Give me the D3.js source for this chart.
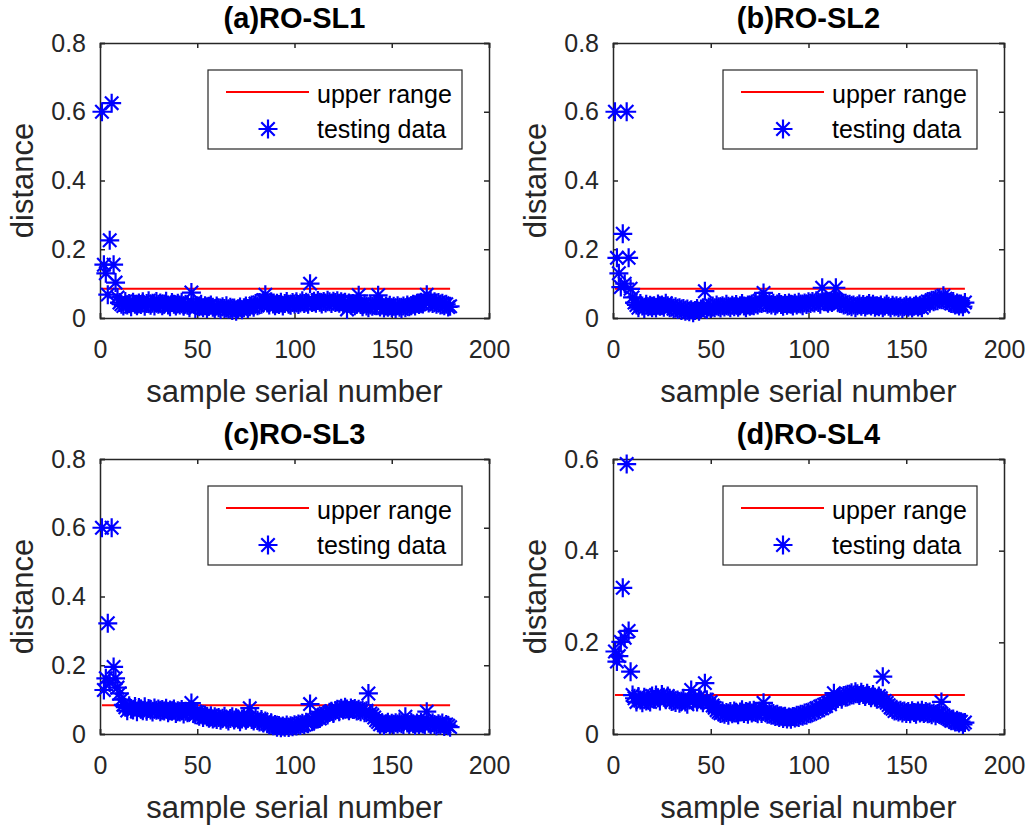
<!DOCTYPE html>
<html>
<head>
<meta charset="utf-8">
<script src="https://cdn.jsdelivr.net/npm/d3@7"></script>
<style>
  body { margin: 0; background: #fff; }
  text { font-family: "Liberation Sans", Arial, sans-serif; }
</style>
</head>
<body>
<div id="chart"></div>
<script>
//////////////////////////////////////////////////////////////////////////////
// Data

var titles = ["(a)RO-SL1", "(b)RO-SL2", "(c)RO-SL3", "(d)RO-SL4"];
var xTicks = [0, 50, 100, 150, 200];
var yTicksTall = [0, 0.2, 0.4, 0.6, 0.8];
var yTicksShort = [0, 0.2, 0.4, 0.6];
var upperRange = [0.085, 0.085, 0.084, 0.085];
var legendLabels = ["upper range", "testing data"];

var distA = [
  0.600, 0.155, 0.130, 0.068, 0.226, 0.625, 0.155, 0.103, 0.060, 0.045,
  0.040, 0.035, 0.048, 0.038, 0.042, 0.033, 0.046, 0.040, 0.036, 0.044,
  0.039, 0.047, 0.034, 0.042, 0.050, 0.037, 0.043, 0.035, 0.048, 0.040,
  0.044, 0.036, 0.041, 0.049, 0.038, 0.033, 0.045, 0.040, 0.035, 0.043,
  0.038, 0.046, 0.034, 0.040, 0.037, 0.030, 0.074, 0.042, 0.028, 0.036,
  0.033, 0.040, 0.030, 0.036, 0.028, 0.034, 0.038, 0.031, 0.027, 0.035,
  0.030, 0.025, 0.033, 0.028, 0.036, 0.026, 0.031, 0.022, 0.029, 0.020,
  0.027, 0.032, 0.024, 0.030, 0.035, 0.028, 0.033, 0.038, 0.031, 0.042,
  0.036, 0.045, 0.040, 0.052, 0.068, 0.044, 0.038, 0.047, 0.041, 0.036,
  0.043, 0.039, 0.046, 0.035, 0.042, 0.048, 0.040, 0.037, 0.045, 0.041,
  0.047, 0.039, 0.044, 0.050, 0.042, 0.046, 0.040, 0.100, 0.045, 0.049,
  0.043, 0.051, 0.046, 0.041, 0.048, 0.044, 0.052, 0.047, 0.042, 0.049,
  0.045, 0.050, 0.043, 0.047, 0.040, 0.046, 0.025, 0.044, 0.038, 0.042,
  0.036, 0.040, 0.066, 0.039, 0.033, 0.041, 0.035, 0.030, 0.038, 0.034,
  0.040, 0.036, 0.066, 0.032, 0.038, 0.029, 0.035, 0.031, 0.037, 0.030,
  0.034, 0.028, 0.036, 0.031, 0.027, 0.035, 0.030, 0.038, 0.033, 0.036,
  0.040, 0.035, 0.043, 0.039, 0.046, 0.041, 0.048, 0.068, 0.044, 0.050,
  0.042, 0.047, 0.040, 0.045, 0.038, 0.043, 0.036, 0.040, 0.032, 0.034
];

var distB = [
  0.600, 0.175, 0.130, 0.090, 0.245, 0.100, 0.600, 0.175, 0.085, 0.060,
  0.045, 0.038, 0.030, 0.042, 0.035, 0.028, 0.040, 0.033, 0.037, 0.030,
  0.036, 0.029, 0.041, 0.034, 0.038, 0.031, 0.043, 0.036, 0.030, 0.035,
  0.027, 0.033, 0.025, 0.030, 0.022, 0.028, 0.020, 0.026, 0.018, 0.024,
  0.015, 0.022, 0.028, 0.020, 0.026, 0.030, 0.078, 0.025, 0.032, 0.028,
  0.035, 0.030, 0.038, 0.033, 0.029, 0.036, 0.032, 0.040, 0.034, 0.030,
  0.037, 0.033, 0.039, 0.031, 0.036, 0.042, 0.035, 0.030, 0.038, 0.034,
  0.041, 0.036, 0.045, 0.038, 0.050, 0.042, 0.073, 0.046, 0.040, 0.044,
  0.038, 0.043, 0.036, 0.041, 0.045, 0.039, 0.034, 0.042, 0.037, 0.044,
  0.040, 0.035, 0.043, 0.038, 0.046, 0.041, 0.036, 0.044, 0.039, 0.047,
  0.042, 0.048, 0.044, 0.050, 0.045, 0.040, 0.088, 0.047, 0.052, 0.043,
  0.049, 0.045, 0.055, 0.088, 0.050, 0.042, 0.046, 0.038, 0.043, 0.035,
  0.040, 0.033, 0.038, 0.030, 0.036, 0.041, 0.034, 0.039, 0.032, 0.037,
  0.042, 0.035, 0.040, 0.031, 0.036, 0.033, 0.038, 0.030, 0.035, 0.040,
  0.034, 0.029, 0.037, 0.032, 0.036, 0.030, 0.034, 0.028, 0.033, 0.037,
  0.031, 0.035, 0.029, 0.034, 0.038, 0.032, 0.036, 0.030, 0.040, 0.044,
  0.048, 0.043, 0.052, 0.047, 0.055, 0.050, 0.058, 0.053, 0.065, 0.056,
  0.050, 0.046, 0.042, 0.048, 0.038, 0.044, 0.035, 0.041, 0.033, 0.045
];

var distC = [
  0.600, 0.128, 0.162, 0.322, 0.150, 0.600, 0.195, 0.162, 0.135, 0.118,
  0.100, 0.085, 0.078, 0.068, 0.082, 0.074, 0.070, 0.080, 0.065, 0.077,
  0.072, 0.068, 0.079, 0.066, 0.074, 0.070, 0.064, 0.076, 0.069, 0.073,
  0.065, 0.071, 0.067, 0.075, 0.062, 0.070, 0.066, 0.073, 0.060, 0.068,
  0.064, 0.071, 0.058, 0.066, 0.062, 0.069, 0.090, 0.060, 0.056, 0.063,
  0.052, 0.058, 0.048, 0.055, 0.050, 0.046, 0.053, 0.044, 0.050, 0.042,
  0.048, 0.040, 0.046, 0.052, 0.043, 0.038, 0.045, 0.050, 0.041, 0.047,
  0.043, 0.036, 0.044, 0.050, 0.040, 0.046, 0.075, 0.042, 0.038, 0.045,
  0.040, 0.035, 0.042, 0.032, 0.038, 0.030, 0.026, 0.033, 0.024, 0.028,
  0.020, 0.025, 0.018, 0.023, 0.020, 0.026, 0.019, 0.024, 0.021, 0.027,
  0.023, 0.029, 0.025, 0.031, 0.027, 0.034, 0.030, 0.087, 0.036, 0.040,
  0.043, 0.048, 0.045, 0.052, 0.056, 0.060, 0.055, 0.063, 0.066, 0.060,
  0.068, 0.072, 0.065, 0.075, 0.070, 0.078, 0.073, 0.068, 0.076, 0.071,
  0.074, 0.067, 0.072, 0.065, 0.070, 0.062, 0.068, 0.118, 0.060, 0.055,
  0.048, 0.040, 0.035, 0.028, 0.032, 0.025, 0.030, 0.034, 0.027, 0.031,
  0.026, 0.033, 0.029, 0.035, 0.030, 0.027, 0.050, 0.032, 0.028, 0.034,
  0.030, 0.025, 0.032, 0.028, 0.034, 0.029, 0.026, 0.065, 0.031, 0.027,
  0.033, 0.028, 0.024, 0.030, 0.026, 0.032, 0.022, 0.028, 0.024, 0.020
];

var distD = [
  0.180, 0.158, 0.170, 0.201, 0.319, 0.210, 0.589, 0.225, 0.136, 0.085,
  0.078, 0.070, 0.082, 0.074, 0.068, 0.080, 0.072, 0.077, 0.070, 0.083,
  0.076, 0.085, 0.079, 0.072, 0.086, 0.080, 0.075, 0.083, 0.078, 0.071,
  0.076, 0.069, 0.074, 0.067, 0.072, 0.078, 0.070, 0.065, 0.074, 0.096,
  0.072, 0.078, 0.070, 0.080, 0.074, 0.068, 0.111, 0.075, 0.066, 0.070,
  0.062, 0.057, 0.052, 0.048, 0.045, 0.050, 0.043, 0.047, 0.041, 0.049,
  0.044, 0.050, 0.046, 0.042, 0.048, 0.053, 0.045, 0.049, 0.043, 0.051,
  0.046, 0.052, 0.047, 0.044, 0.050, 0.045, 0.068, 0.049, 0.043, 0.047,
  0.041, 0.045, 0.038, 0.043, 0.036, 0.040, 0.034, 0.039, 0.033, 0.037,
  0.032, 0.038, 0.035, 0.041, 0.036, 0.043, 0.039, 0.046, 0.041, 0.048,
  0.044, 0.052, 0.048, 0.056, 0.052, 0.060, 0.056, 0.064, 0.061, 0.068,
  0.065, 0.072, 0.089, 0.074, 0.078, 0.082, 0.076, 0.084, 0.080, 0.087,
  0.083, 0.090, 0.085, 0.092, 0.088, 0.084, 0.091, 0.086, 0.082, 0.089,
  0.084, 0.079, 0.086, 0.080, 0.076, 0.083, 0.078, 0.125, 0.072, 0.068,
  0.063, 0.058, 0.055, 0.050, 0.054, 0.048, 0.052, 0.046, 0.050, 0.045,
  0.049, 0.044, 0.051, 0.047, 0.043, 0.050, 0.046, 0.052, 0.045, 0.049,
  0.044, 0.048, 0.042, 0.046, 0.040, 0.045, 0.043, 0.070, 0.041, 0.037,
  0.035, 0.032, 0.029, 0.033, 0.026, 0.030, 0.024, 0.027, 0.021, 0.025
];

//////////////////////////////////////////////////////////////////////////////
// Layout

var width = 1030, height = 827;
var axisColor = "#262626";
var tickFont = 25, labelFont = 31, titleFont = 29, legendFont = 25;
var starR = 9.5;
var starWidth = 2.2;

var panels = [
  { left: 100, top: 43,  w: 389, h: 275, data: distA, yMax: 0.8, yTicks: yTicksTall },
  { left: 613, top: 43,  w: 391, h: 275, data: distB, yMax: 0.8, yTicks: yTicksTall },
  { left: 100, top: 459, w: 389, h: 275, data: distC, yMax: 0.8, yTicks: yTicksTall },
  { left: 613, top: 459, w: 391, h: 275, data: distD, yMax: 0.6, yTicks: yTicksShort }
];

// MATLAB '*' marker: horizontal, vertical and two diagonals
function starPath(r) {
    var d = r * 0.7071;
    return "M" + (-r) + ",0L" + r + ",0" +
           "M0," + (-r) + "L0," + r +
           "M" + (-d) + "," + (-d) + "L" + d + "," + d +
           "M" + (-d) + "," + d + "L" + d + "," + (-d);
}

var svg = d3.select("#chart")
    .append("svg")
    .attr("width", width)
    .attr("height", height);

function drawPanel(p, i) {
    var x = d3.scaleLinear().domain([0, 200]).range([0, p.w]);
    var y = d3.scaleLinear().domain([0, p.yMax]).range([p.h, 0]);
    var fmt = function(v) { return v === 0 ? "0" : d3.format(".1f")(v); };

    var g = svg.append("g")
        .attr("transform", "translate(" + p.left + "," + p.top + ")");

    // axes with inward ticks, box on
    var gx = g.append("g")
        .attr("transform", "translate(0," + p.h + ")")
        .call(d3.axisBottom(x).tickValues(xTicks).tickSize(-5).tickPadding(22));
    var gxTop = g.append("g")
        .call(d3.axisTop(x).tickValues(xTicks).tickSize(-5).tickFormat(""));
    var gy = g.append("g")
        .call(d3.axisLeft(y).tickValues(p.yTicks).tickSize(-5).tickPadding(14).tickFormat(fmt));
    var gyRight = g.append("g")
        .attr("transform", "translate(" + p.w + ",0)")
        .call(d3.axisRight(y).tickValues(p.yTicks).tickSize(-5).tickFormat(""));

    [gx, gxTop, gy, gyRight].forEach(function(a) {
        a.select(".domain").attr("stroke", axisColor).attr("stroke-width", 1.5);
        a.selectAll(".tick line").attr("stroke", axisColor).attr("stroke-width", 1.5);
        a.selectAll(".tick text")
            .attr("fill", axisColor)
            .style("font-size", tickFont + "px");
    });
    gx.selectAll(".tick text").attr("dy", "0.71em");

    // samples
    var samples = p.data.map(function(v, k) { return { n: k + 1, v: v }; });

    var line = d3.line()
        .x(function(d) { return x(d.n); })
        .y(function(d) { return y(upperRange[i]); });

    g.append("path")
        .datum(samples)
        .attr("d", line)
        .attr("fill", "none")
        .attr("stroke", "#ff0000")
        .attr("stroke-width", 2);

    g.append("g")
        .selectAll("path")
        .data(samples)
        .enter()
        .append("path")
        .attr("transform", function(d) { return "translate(" + x(d.n) + "," + y(d.v) + ")"; })
        .attr("d", starPath(starR))
        .attr("fill", "none")
        .attr("stroke", "#0000ff")
        .attr("stroke-width", starWidth);

    // title and labels
    g.append("text")
        .attr("x", p.w / 2)
        .attr("y", -15)
        .attr("text-anchor", "middle")
        .style("font-size", titleFont + "px")
        .style("font-weight", "bold")
        .text(titles[i]);

    g.append("text")
        .attr("x", p.w / 2)
        .attr("y", p.h + 84)
        .attr("text-anchor", "middle")
        .attr("fill", axisColor)
        .style("font-size", labelFont + "px")
        .text("sample serial number");

    g.append("text")
        .attr("transform", "translate(" + (-67) + "," + (p.h / 2) + ") rotate(-90)")
        .attr("text-anchor", "middle")
        .attr("fill", axisColor)
        .style("font-size", labelFont + "px")
        .text("distance");

    // legend
    var lg = g.append("g").attr("transform", "translate(" + (p.w - 281) + ",27)");
    lg.append("rect")
        .attr("width", 254)
        .attr("height", 79)
        .attr("fill", "#fff")
        .attr("stroke", axisColor)
        .attr("stroke-width", 1.2);
    lg.append("line")
        .attr("x1", 18).attr("x2", 101)
        .attr("y1", 22).attr("y2", 22)
        .attr("stroke", "#ff0000")
        .attr("stroke-width", 2);
    lg.append("path")
        .attr("transform", "translate(60,59)")
        .attr("d", starPath(starR))
        .attr("fill", "none")
        .attr("stroke", "#0000ff")
        .attr("stroke-width", starWidth);
    lg.selectAll("text.leg")
        .data(legendLabels)
        .enter()
        .append("text")
        .attr("class", "leg")
        .attr("x", 109)
        .attr("y", function(d, k) { return 24 + k * 35; })
        .attr("dy", "0.35em")
        .style("font-size", legendFont + "px")
        .text(function(d) { return d; });
}

panels.forEach(drawPanel);
</script>
</body>
</html>
